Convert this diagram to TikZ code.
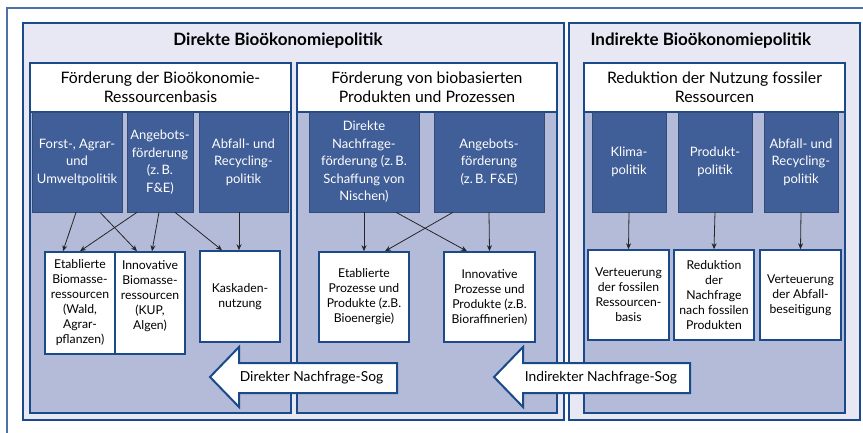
\documentclass[tikz,border=0pt]{standalone}
\usepackage{fontspec}
\setmainfont{Lato}
\usetikzlibrary{arrows.meta,calc}
\definecolor{dblue}{HTML}{1B4A8B}
\definecolor{frameblue}{HTML}{4C72A8}
\definecolor{boxblue}{HTML}{405E97}
\definecolor{subfill}{HTML}{B3BBD9}
\definecolor{mainfill}{HTML}{E7E8F3}
\definecolor{arrgray}{HTML}{262626}
\begin{document}
\begin{tikzpicture}[x=1pt,y=-1pt,
  mainpanel/.style={fill=mainfill,draw=dblue,line width=2pt},
  subpanel/.style={fill=subfill,draw=dblue,line width=1.5pt},
  headbox/.style={draw=dblue,fill=white,line width=1.2pt,inner sep=0pt,align=center,
    font=\fontsize{15.8}{19}\selectfont,minimum height=49pt},
  bluebox/.style={fill=boxblue,draw=boxblue!80!black,line width=0.6pt,text=white,inner sep=0pt,
    align=center,font=\fontsize{13}{17.5}\selectfont,minimum height=100pt},
  whitebox/.style={fill=white,draw=dblue,line width=1.6pt,inner sep=0pt,align=center,
    font=\fontsize{12.2}{15}\selectfont},
  arr/.style={draw=arrgray,line width=0.8pt,-{Stealth[length=6pt,width=5pt]}},
  bigarrow/.style={fill=white,draw=dblue,line width=2pt,line join=miter},
  titletext/.style={font=\fontsize{17}{19}\selectfont\bfseries},
  arrowtext/.style={font=\fontsize{13.8}{17}\selectfont,inner sep=0pt}
]
\useasboundingbox (0,0) rectangle (863,433);
% outer frame
\draw[frameblue,line width=1.2pt] (7,433) -- (7,8) -- (863,8);
% main panels
\filldraw[mainpanel] (23,23) rectangle (564,420);
\filldraw[mainpanel] (569,23) rectangle (860,420);
\node[titletext] (t1) at (278,41) {Direkte Bioökonomiepolitik};
\node[titletext,anchor=west] (t2) at (587,41) {Indirekte Bioökonomiepolitik};
% sub panels
\filldraw[subpanel] (30,63) rectangle (291,413);
\filldraw[subpanel] (297,63) rectangle (557,413);
\filldraw[subpanel] (584,63) rectangle (845,413);
% headers
\node[headbox,minimum width=261pt] (h1) at (160.5,87.5) {Förderung der Bioökonomie-\\Ressourcenbasis};
\node[headbox,minimum width=260pt] (h2) at (427,87.5) {Förderung von biobasierten\\Produkten und Prozessen};
\node[headbox,minimum width=261pt] (h3) at (714.5,87.5) {Reduktion der Nutzung fossiler\\Ressourcen};
% blue boxes
\node[bluebox,minimum width=90pt] (b11) at (77,162) {Forst-, Agrar-\\und\\Umweltpolitik};
\node[bluebox,minimum width=66pt] (b12) at (160,162) {Angebots-\\förderung\\(z.\,B.\\F\&E)};
\node[bluebox,minimum width=89pt] (b13) at (243.5,162) {Abfall- und\\Recycling-\\politik};
\node[bluebox,minimum width=110pt] (b21) at (364,162) {Direkte\\Nachfrage-\\förderung (z.\,B.\\Schaffung von\\Nischen)};
\node[bluebox,minimum width=110pt] (b22) at (489,162) {Angebots-\\förderung\\(z.\,B. F\&E)};
\node[bluebox,minimum width=74pt] (b31) at (629,162) {Klima-\\politik};
\node[bluebox,minimum width=74pt] (b32) at (715,162) {Produkt-\\politik};
\node[bluebox,minimum width=74pt] (b33) at (801,162) {Abfall- und\\Recycling-\\politik};
% white boxes
\node[whitebox,minimum width=70pt,minimum height=102pt] (w11) at (80,303) {Etablierte\\Biomasse-\\ressourcen\\(Wald,\\Agrar-\\pflanzen)};
\node[whitebox,minimum width=70pt,minimum height=102pt] (w12) at (150,303) {Innovative\\Biomasse-\\ressourcen\\(KUP,\\Algen)\\\mbox{}};
\node[whitebox,minimum width=80pt,minimum height=91pt] (w13) at (240,296.5) {Kaskaden-\\nutzung};
\node[whitebox,minimum width=90pt,minimum height=90pt] (w21) at (364,297) {Etablierte\\Prozesse und\\Produkte (z.B.\\Bioenergie)};
\node[whitebox,minimum width=91pt,minimum height=90pt] (w22) at (489.5,297) {Innovative\\Prozesse und\\Produkte (z.B.\\Bioraffinerien)};
\node[whitebox,minimum width=81pt,minimum height=90pt] (w31) at (628.5,295) {Verteuerung\\der fossilen\\Ressourcen-\\basis};
\node[whitebox,minimum width=80pt,minimum height=90pt] (w32) at (714,295) {Reduktion\\der\\Nachfrage\\nach fossilen\\Produkten};
\node[whitebox,minimum width=81pt,minimum height=90pt] (w33) at (800.5,295) {Verteuerung\\der Abfall-\\beseitigung};
% connectors
\draw[arr] ([xshift=-1pt]b11.south) -- ([xshift=-17pt]w11.north);
\draw[arr] ([xshift=23pt]b11.south) -- ([xshift=-13pt]w12.north);
\draw[arr] ([xshift=-23pt]b12.south) -- (w11.north);
\draw[arr] ([xshift=-1pt]b12.south) -- ([xshift=2pt]w12.north);
\draw[arr] ([xshift=15pt]b12.south) -- ([xshift=-18pt]w13.north);
\draw[arr] ([xshift=-4.5pt]b13.south) -- ([xshift=-1pt]w13.north);
\draw[arr] (b21.south) -- (w21.north);
\draw[arr] ([xshift=32pt]b21.south) -- ([xshift=-22.5pt]w22.north);
\draw[arr] ([xshift=-36pt]b22.south) -- ([xshift=21pt]w21.north);
\draw[arr] (b22.south) -- (w22.north);
\draw[arr] (b31.south) -- (w31.north);
\draw[arr] (b32.south) -- (w32.north);
\draw[arr] (b33.south) -- (w33.north);
% big arrows
\draw[bigarrow] (397,363) -- (239,363) -- (239,347) -- (210,377) -- (239,407) -- (239,393) -- (397,393) -- cycle;
\node[arrowtext] (a1) at (311.5,378) {Direkter Nachfrage-Sog};
\draw[bigarrow] (690,363) -- (523,363) -- (523,347) -- (494,377) -- (523,407) -- (523,393) -- (690,393) -- cycle;
\node[arrowtext] (a2) at (601,378) {Indirekter Nachfrage-Sog};
\end{tikzpicture}
\end{document}
